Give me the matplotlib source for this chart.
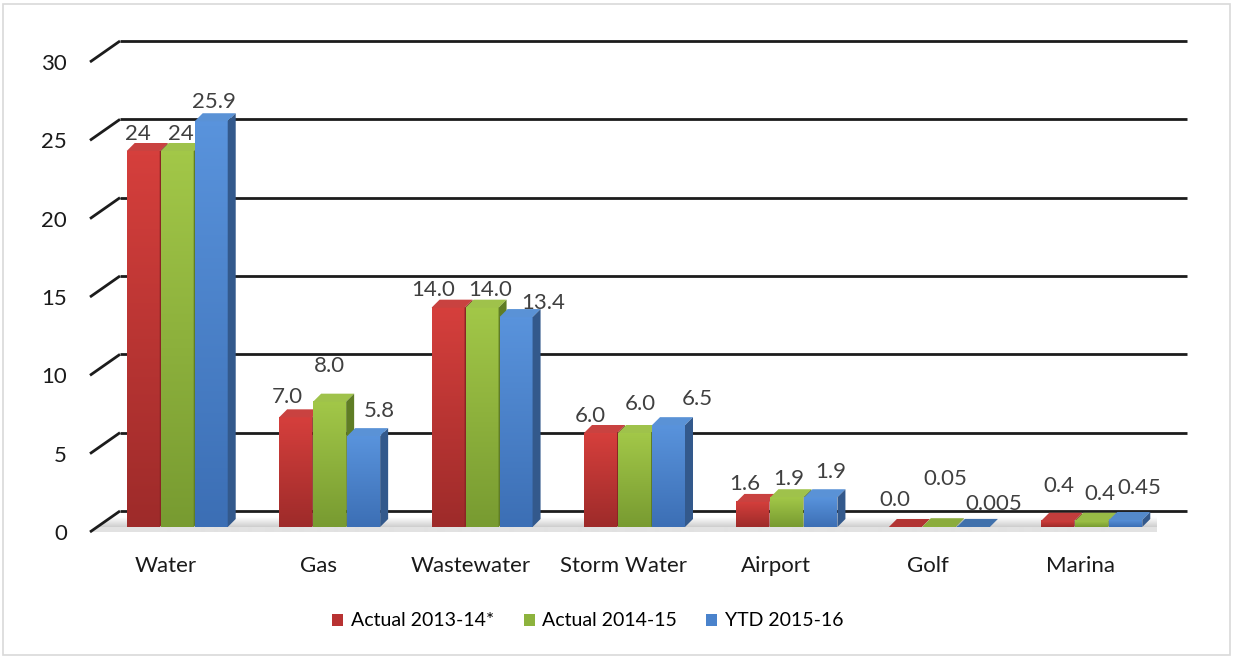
"""
3D-style clustered bar chart: rates by utility, three fiscal years
"""
import numpy as np
import matplotlib
matplotlib.use("Agg")
import matplotlib.pyplot as plt
import matplotlib.transforms as mtransforms
from matplotlib.patches import Polygon, Rectangle, Patch
from matplotlib.colors import LinearSegmentedColormap, to_rgb

#########################################################
# Data
#########################################################
categories = ["Water", "Gas", "Wastewater", "Storm Water", "Airport", "Golf", "Marina"]
series_names = ["Actual 2013-14*", "Actual 2014-15", "YTD 2015-16"]

actual_1314 = [24, 7.0, 14.0, 6.0, 1.6, 0.0, 0.4]
actual_1415 = [24, 8.0, 14.0, 6.0, 1.9, 0.05, 0.4]
ytd_1516 = [25.9, 5.8, 13.4, 6.5, 1.9, 0.005, 0.45]

labels_1314 = ["24", "7.0", "14.0", "6.0", "1.6", "0.0", "0.4"]
labels_1415 = ["24", "8.0", "14.0", "6.0", "1.9", "0.05", "0.4"]
labels_1516 = ["25.9", "5.8", "13.4", "6.5", "1.9", "0.005", "0.45"]

y_ticks = [0, 5, 10, 15, 20, 25, 30]

# label offsets in pixels (dx, dy above the bar top), Excel moved them around
offs_1314 = [(-5, 17), (-8, 20), (-15, 18), (-10, 17), (-8, 18), (-10, 27), (1, 35)]
offs_1415 = [(4, 17), (0, 36), (8, 18), (6, 29), (2, 18), (6, 47), (8, 27)]
offs_1516 = [(3, 19), (16, 25), (27, 14), (29, 26), (10, 25), (20, 23), (14, 32)]

#########################################################
# Style
#########################################################
FRONT = [("#d53f3c", "#9e2b2a"), ("#a2c748", "#789b31"), ("#5993dc", "#3c6fb5")]
TOPS = ["#c94240", "#9fc24b", "#5a92d6"]
TOPS_DARK = ["#a32a2a", "#7a9a30", "#2f5a8f"]
SIDES = ["#8a2525", "#5f7d25", "#33598c"]
LEGEND_COL = ["#b83232", "#8db33d", "#4a83cc"]
GRID_COL = "#1c1c1c"
LABEL_COL = "#404040"
FS = 16

plt.rcParams["font.family"] = ["Lato", "DejaVu Sans"]

W, H = 1233, 659
fig = plt.figure(figsize=(W / 100, H / 100), dpi=100)
fig.patch.set_facecolor("white")

# outer border
fig.add_artist(Rectangle((3 / W, 4 / H), 1227 / W, 651 / H, transform=fig.transFigure,
                         fill=False, edgecolor="#d9d9d9", lw=1.2))

ax = fig.add_axes([90 / W, (H - 532) / H, 1067 / W, 470 / H])
ax.set_xlim(-0.5, len(categories) - 0.5)
ax.set_ylim(0, 30)
for s in ax.spines.values():
    s.set_visible(False)

# pixel size of one data unit
p0 = ax.transData.transform((0, 0))
p1 = ax.transData.transform((1, 1))
px_x, px_y = p1[0] - p0[0], p1[1] - p0[1]

# back wall offset and bar offset (pixels)
bar_tr = mtransforms.offset_copy(ax.transData, fig=fig, x=11, y=5, units="dots")
bdx, bdy = 30 / px_x, 21 / px_y
depth_x, depth_y = 8 / px_x, 8 / px_y

x0, x1 = ax.get_xlim()

#########################################################
# Floor and back wall grid
#########################################################
floor = Polygon([(x0, 0), (x1, 0), (x1 + bdx, bdy), (x0 + bdx, bdy)],
                closed=True, facecolor="none", edgecolor="none", zorder=0.5)
ax.add_patch(floor)
# floor shading per pixel row: light edge strip, then soft shadow under the bars
rows = np.arange(21, 0, -1) - 0.5
shade = np.ones((21, 1, 3))
for r, yy in enumerate(rows):
    if yy < 5:
        c = to_rgb("#e2e2e2")
    else:
        t = min(1.0, (yy - 5) / 10)
        c = tuple(np.array(to_rgb("#cdcdcd")) * (1 - t) + np.array([1, 1, 1]) * t)
    shade[r, 0] = c
floor_img = ax.imshow(shade, extent=[x0, x1 + bdx, 0, bdy], aspect="auto",
                      interpolation="bilinear", zorder=0.5)
floor_img.set_clip_path(floor)

for v in y_ticks:
    ax.plot([x0 + bdx, x1 + bdx], [v + bdy, v + bdy], color=GRID_COL, lw=2,
            zorder=1, clip_on=False, solid_capstyle="butt")
    ax.plot([x0, x0 + bdx], [v, v + bdy], color=GRID_COL, lw=2,
            zorder=1, clip_on=False, solid_capstyle="butt")

#########################################################
# Bars
#########################################################
series = [actual_1314, actual_1415, ytd_1516]
labels = [labels_1314, labels_1415, labels_1516]
offsets = [offs_1314, offs_1415, offs_1516]

bw = 33 / px_x
step = 34 / px_x
xpos = np.arange(len(categories))

for i in range(len(categories)):
    for k in range(3):
        z = 3 + 0.01 * (i * 3 + k)
        h = series[k][i]
        xc = xpos[i] + (k - 1) * step
        xl, xr = xc - bw / 2, xc + bw / 2
        # front face with vertical gradient
        if h > 0:
            cmap = LinearSegmentedColormap.from_list("c", [FRONT[k][1], FRONT[k][0]])
            grad = np.linspace(1, 0, 64).reshape(-1, 1)
            ax.imshow(grad, extent=[xl, xr, 0, h], transform=bar_tr, cmap=cmap,
                      aspect="auto", interpolation="bilinear", zorder=z)
        # top face, darker on the very short bars like in Excel
        t = min(1.0, 0.4 + h)
        top_col = np.array(to_rgb(TOPS[k])) * t + np.array(to_rgb(TOPS_DARK[k])) * (1 - t)
        ax.add_patch(Polygon([(xl, h), (xr, h), (xr + depth_x, h + depth_y),
                              (xl + depth_x, h + depth_y)], closed=True,
                             facecolor=top_col, edgecolor="none", transform=bar_tr, zorder=z))
        # right side face
        ax.add_patch(Polygon([(xr, 0), (xr + depth_x, depth_y), (xr + depth_x, h + depth_y),
                              (xr, h)], closed=True, facecolor=SIDES[k],
                             edgecolor="none", transform=bar_tr, zorder=z))
        # value label
        dx, dy = offsets[k][i]
        ax.annotate(labels[k][i], xy=(xc, h), xycoords=bar_tr, xytext=(dx, dy),
                    textcoords="offset pixels", ha="center", va="center",
                    fontsize=FS, color=LABEL_COL, zorder=5)

ax.set_xlim(x0, x1)
ax.set_ylim(0, 30)

#########################################################
# Axes labels and legend
#########################################################
ax.set_yticks(y_ticks)
ax.set_yticklabels([str(v) for v in y_ticks], fontsize=FS, color="#1a1a1a")
ax.set_xticks(xpos)
ax.set_xticklabels(categories, fontsize=FS, color="#1a1a1a")
ax.tick_params(axis="both", length=0)
ax.tick_params(axis="y", pad=16.5)
ax.tick_params(axis="x", pad=17)

handles = [Patch(facecolor=c, edgecolor="none") for c in LEGEND_COL]
fig.legend(handles, series_names, loc="center", bbox_to_anchor=(588 / W, 1 - 621 / H),
           ncol=3, frameon=False, fontsize=14, handlelength=0.57, handleheight=0.57,
           handletextpad=0.4, columnspacing=1.5)

fig.savefig("out.png", dpi=100, facecolor="white")
